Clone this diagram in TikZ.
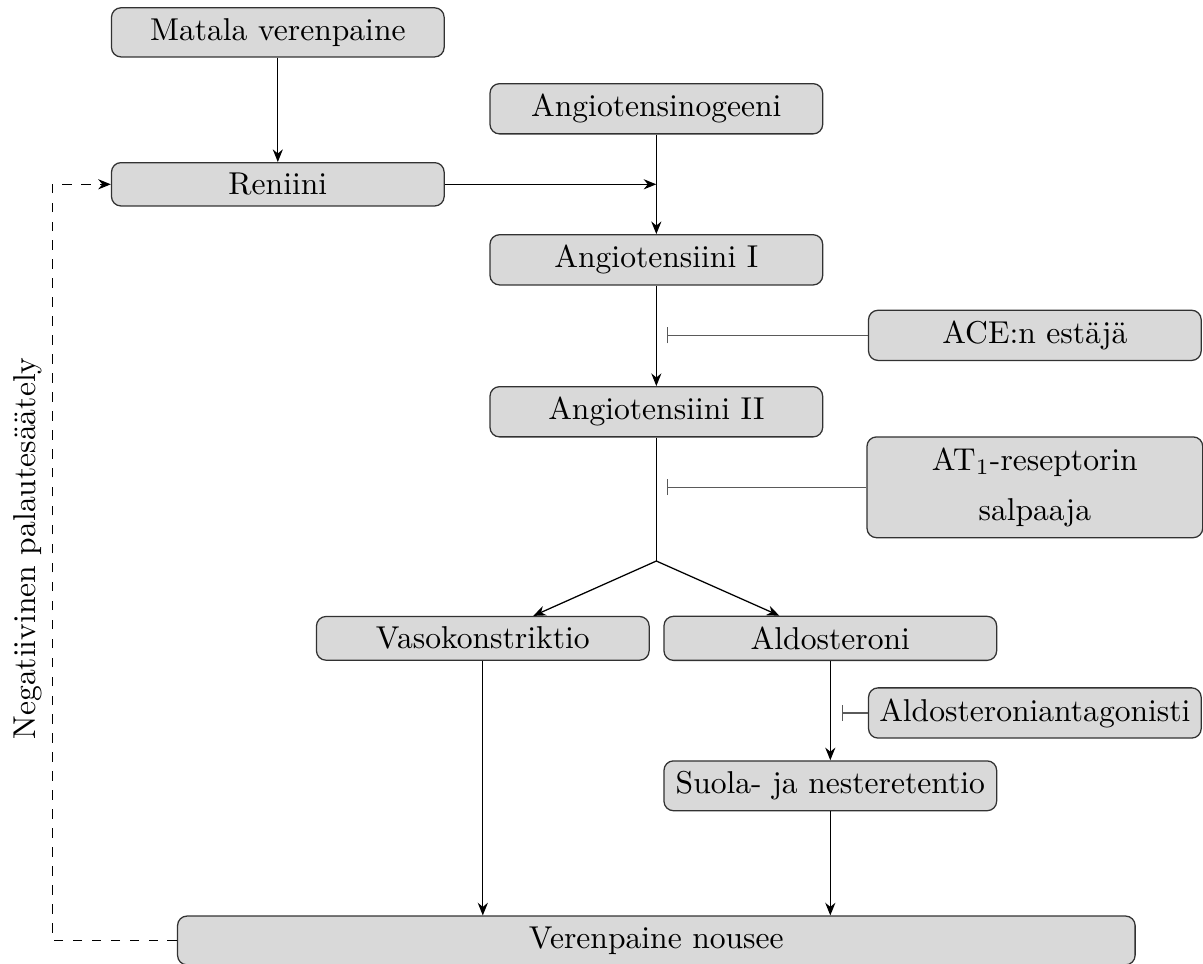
\documentclass[tikz,border=0pt]{standalone}
\usepackage{tikz}
\usepackage{amsmath}
\usepackage{xcolor}
\usetikzlibrary{arrows.meta}
\definecolor{boxfill}{RGB}{217, 217, 217}
\definecolor{boxline}{RGB}{50, 50, 50}
\definecolor{inh}{RGB}{90, 90, 90}
\tikzset{
  box/.style={draw=boxline, fill=boxfill, rounded corners=3pt, minimum width=3.7cm, align=center},
  arr/.style={-{Stealth[length=4pt, width=3.2pt]}},
  inhib/.style={color=inh, -{Bar[width=5pt]}},
}

\begin{document}
\begin{tikzpicture}
      \useasboundingbox (0, 0) rectangle (13.38, -10.72);
      \node[box](matala) at (3.09, -0.36) {Matala verenpaine};
      \node[box](angtgn) at (7.30, -1.21) {Angiotensinogeeni};
      \node[box](reniini) at (3.09, -2.05) {Reniini};
      \node[box](ang1) at (7.30, -2.89) {Angiotensiini I};
      \node[box](ace) at (11.51, -3.73) {ACE:n estäjä};
      \node[box](ang2) at (7.30, -4.58) {Angiotensiini II};
      \node[box, text width=3.5cm](at1) at (11.51, -5.42) {AT$_1$-reseptorin\\[4pt] salpaaja};
      \node[box](vaso) at (5.37, -7.10) {Vasokonstriktio};
      \node[box](aldo) at (9.235, -7.10) {Aldosteroni};
      \node[box](antag) at (11.51, -7.93) {Aldosteroniantagonisti};
      \node[box](suola) at (9.235, -8.74) {Suola- ja nesteretentio};
      \node[box, minimum width=10.65cm](nousee) at (7.30, -10.46) {Verenpaine nousee};
      \coordinate(join) at (7.30, -2.05);
      \coordinate(haara) at (7.30, -6.24);
      \coordinate(b1) at (7.42, -3.73);
      \coordinate(b2) at (7.42, -5.42);
      \coordinate(b3) at (9.36, -7.93);
      \coordinate(vasen) at (0.58, -10.46);
      \coordinate(vasen2) at (0.58, -2.05);
      \draw[arr] (matala) -- (reniini);
      \draw[arr] (angtgn) -- (ang1);
      \draw[arr] (reniini) -- (join);
      \draw[arr] (ang1) -- (ang2);
      \draw (ang2) -- (haara);
      \draw[arr] (haara) -- (vaso);
      \draw[arr] (haara) -- (aldo);
      \draw[arr] (aldo) -- (suola);
      \draw[arr] (vaso) -- (vaso |- nousee.north);
      \draw[arr] (suola) -- (suola |- nousee.north);
      \draw[inhib] (ace) -- (b1);
      \draw[inhib] (at1) -- (b2);
      \draw[inhib] (antag) -- (b3);
      \draw[dashed, arr] (nousee) -- (vasen) -- (vasen2) -- (reniini);
      \node[rotate=90](nega) at (0.31, -6.10) {Negatiivinen palautesäätely};
    \end{tikzpicture}
\end{document}
